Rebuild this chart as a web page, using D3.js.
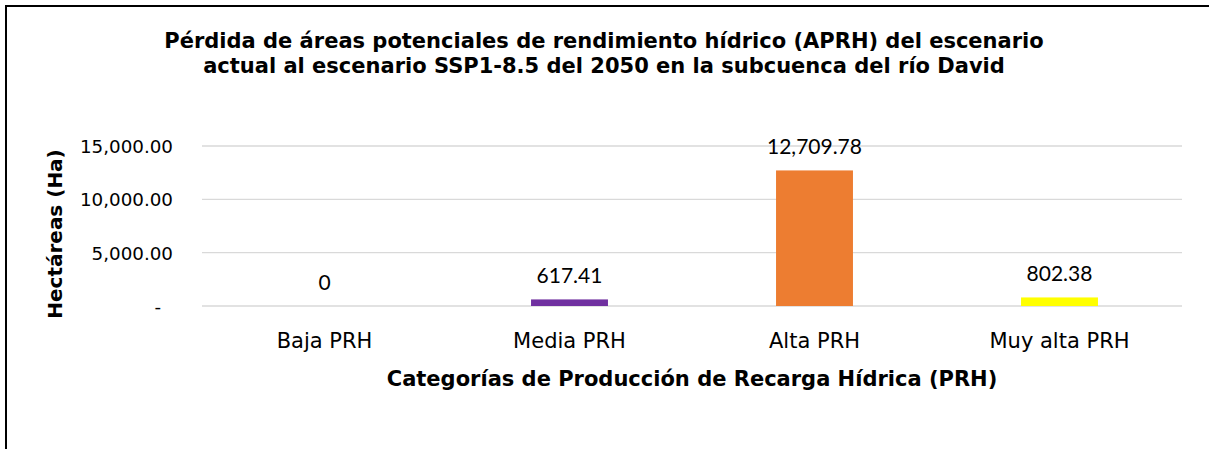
<!DOCTYPE html>
<html>
<head>
<meta charset="utf-8">
<script src="https://cdn.jsdelivr.net/npm/d3@7"></script>
<style>
  body { margin: 0; background: #fff; }
  svg { display: block; font-family: "DejaVu Sans", Verdana, sans-serif; }
</style>
</head>
<body>
<div id="chart"></div>
<script>
// data
var categories = ["Baja PRH", "Media PRH", "Alta PRH", "Muy alta PRH"]
var hectareas = [0, 617.41, 12709.78, 802.38]
var barColors = ["#4472C4", "#7030A0", "#ED7D31", "#FFFF00"]
var yTicks = [0, 5000, 10000, 15000]
var titleLines = [
  "Pérdida de áreas potenciales de rendimiento hídrico (APRH) del escenario",
  "actual al escenario SSP1-8.5 del 2050 en la subcuenca del río David"
]

var width = 1209, height = 449
var plot = { left: 202, right: 1182, top: 146, bottom: 306 }

var svg = d3.select("#chart").append("svg")
  .attr("width", width)
  .attr("height", height)

/* outer frame, runs past right and bottom edge */
svg.append("rect")
  .attr("x", 6).attr("y", 6)
  .attr("width", width + 20).attr("height", height + 20)
  .attr("fill", "#fff")
  .attr("stroke", "#000")
  .attr("stroke-width", 2)

var band = d3.scaleBand()
  .domain(categories)
  .range([plot.left, plot.right])

var y = d3.scaleLinear()
  .domain([0, 15000])
  .range([plot.bottom, plot.top])

function tickFmt(v) { return v === 0 ? "-" : d3.format(",.2f")(v) }
function labelFmt(v) { return v === 0 ? "0" : d3.format(",.2f")(v) }
function mid(c) { return band(c) + band.bandwidth() / 2 }

/* grid */
svg.selectAll(".grid").data(yTicks).enter().append("line")
  .attr("class", "grid")
  .attr("x1", plot.left).attr("x2", plot.right)
  .attr("y1", function(d) { return y(d) }).attr("y2", function(d) { return y(d) })
  .attr("stroke", "#d9d9d9")
  .attr("stroke-width", 1.3)

/* y tick labels */
svg.selectAll(".ytick").data(yTicks).enter().append("text")
  .attr("class", "ytick")
  .attr("x", function(d) { return d === 0 ? 161 : 173 })
  .attr("y", function(d) { return y(d) + 7 })
  .attr("text-anchor", "end")
  .attr("font-size", 18.3)
  .attr("fill", "#000")
  .text(tickFmt)

/* bars */
var barW = band.bandwidth() * 0.314
svg.selectAll(".bar").data(hectareas).enter().append("rect")
  .attr("class", "bar")
  .attr("x", function(d, i) { return mid(categories[i]) - barW / 2 })
  .attr("width", barW)
  .attr("y", function(d) { return y(d) })
  .attr("height", function(d) { return y(0) - y(d) })
  .attr("fill", function(d, i) { return barColors[i] })

/* value labels */
svg.selectAll(".vlabel").data(hectareas).enter().append("text")
  .attr("class", "vlabel")
  .attr("x", function(d, i) { return mid(categories[i]) })
  .attr("y", function(d) { return y(d) - 16.5 })
  .attr("text-anchor", "middle")
  .attr("font-family", "Lato, 'Open Sans', sans-serif")
  .attr("font-size", 21)
  .attr("fill", "#000")
  .text(labelFmt)

/* category labels */
svg.selectAll(".xlabel").data(categories).enter().append("text")
  .attr("class", "xlabel")
  .attr("x", function(d) { return mid(d) })
  .attr("y", 348)
  .attr("text-anchor", "middle")
  .attr("font-size", 21)
  .attr("fill", "#000")
  .text(function(d) { return d })

/* axis titles */
svg.append("text")
  .attr("x", (plot.left + plot.right) / 2)
  .attr("y", 386)
  .attr("text-anchor", "middle")
  .attr("font-size", 21)
  .attr("font-weight", "bold")
  .text("Categorías de Producción de Recarga Hídrica (PRH)")

svg.append("text")
  .attr("transform", "translate(62,234) rotate(-90)")
  .attr("text-anchor", "middle")
  .attr("font-size", 20)
  .attr("font-weight", "bold")
  .text("Hectáreas (Ha)")

/* title */
svg.selectAll(".title").data(titleLines).enter().append("text")
  .attr("class", "title")
  .attr("x", 604)
  .attr("y", function(d, i) { return 48 + i * 25 })
  .attr("text-anchor", "middle")
  .attr("font-size", 21)
  .attr("font-weight", "bold")
  .text(function(d) { return d })
</script>
</body>
</html>
